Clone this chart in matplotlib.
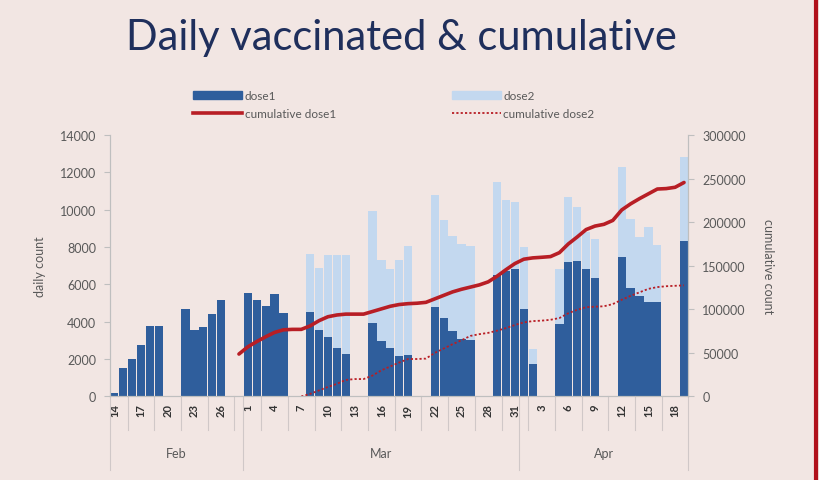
import numpy as np
import pandas as pd
import matplotlib
matplotlib.use("Agg")
import matplotlib.pyplot as plt
import matplotlib.dates as mdates
from matplotlib.lines import Line2D
from matplotlib.patches import Patch
import matplotlib.transforms as mtransforms

# daily bars (weekdays only in the source chart)
bar_dates = pd.to_datetime([
    "2021-02-14", "2021-02-15", "2021-02-16", "2021-02-17", "2021-02-18", "2021-02-19",
    "2021-02-22", "2021-02-23", "2021-02-24", "2021-02-25", "2021-02-26",
    "2021-03-01", "2021-03-02", "2021-03-03", "2021-03-04", "2021-03-05",
    "2021-03-08", "2021-03-09", "2021-03-10", "2021-03-11", "2021-03-12",
    "2021-03-15", "2021-03-16", "2021-03-17", "2021-03-18", "2021-03-19",
    "2021-03-22", "2021-03-23", "2021-03-24", "2021-03-25", "2021-03-26",
    "2021-03-29", "2021-03-30", "2021-03-31", "2021-04-01", "2021-04-02",
    "2021-04-05", "2021-04-06", "2021-04-07", "2021-04-08", "2021-04-09",
    "2021-04-12", "2021-04-13", "2021-04-14", "2021-04-15", "2021-04-16",
    "2021-04-19",
])
dose1 = [200, 1500, 2000, 2750, 3750, 3750,
         4700, 3550, 3700, 4400, 5150,
         5550, 5150, 4850, 5500, 4450,
         4550, 3550, 3200, 2600, 2250,
         3950, 2950, 2600, 2150, 2200,
         4800, 4200, 3500, 3100, 3000,
         6500, 6700, 6850, 4700, 1750,
         3900, 7200, 7250, 6800, 6350,
         7450, 5800, 5400, 5050, 5050,
         8350]
dose2 = [0, 0, 0, 0, 0, 0,
         0, 0, 0, 0, 0,
         0, 0, 0, 0, 0,
         3100, 3350, 4350, 4950, 5300,
         6000, 4350, 4200, 5150, 5850,
         6000, 5250, 5100, 5050, 5050,
         5000, 3800, 3550, 3300, 800,
         2900, 3500, 2900, 2000, 2100,
         4850, 3700, 3150, 4050, 3050,
         4450]

# cumulative series (every calendar day)
cum1_start = "2021-02-28"
cum_dose1 = [48700, 57000, 63000, 68500, 73500, 76500, 77000, 77000,
             81000, 87000, 91500, 93500, 94500, 94500, 94500,
             97500, 100500, 103500, 105500, 106500, 107000, 108000,
             112000, 116000, 120000, 123000, 125500, 128000, 131500,
             138000, 145500, 152500, 157500, 159000, 159700, 160500,
             165000, 175000, 183000, 191500, 195500, 197500, 202000,
             214000, 221000, 227000, 232500, 238000, 238500, 240000,
             245500]
cum2_start = "2021-03-07"
cum_dose2 = [0, 3000, 7000, 11000, 14500, 19000, 20000, 20000,
             24000, 30000, 34500, 39000, 43000, 43000, 43500,
             50000, 55000, 60000, 64500, 69500, 71500, 73000,
             75500, 78500, 82000, 85000, 86500, 87000, 88000,
             90000, 95500, 99500, 102500, 103000, 103500, 106000,
             111000, 115500, 119500, 123500, 125500, 126500, 127000,
             127500]

months = ["Feb", "Mar", "Apr"]

BG = "#F2E6E3"
DARK = "#2F5E9C"
LIGHT = "#C3D8EF"
RED = "#B81E25"
GREY = "#595959"

plt.rcParams["font.family"] = ["Lato", "DejaVu Sans"]

fig = plt.figure(figsize=(8.2, 4.81), dpi=100, facecolor=BG)
ax = fig.add_axes([0.134, 0.1736, 0.7056, 0.5437])
ax.set_facecolor("none")
ax2 = ax.twinx()

ax.bar(bar_dates, dose1, width=0.93, color=DARK, zorder=2)
ax.bar(bar_dates, dose2, width=0.93, bottom=dose1, color=LIGHT, zorder=1)

d1 = pd.date_range(cum1_start, periods=len(cum_dose1))
d2 = pd.date_range(cum2_start, periods=len(cum_dose2))
ax2.plot(d1, cum_dose1, color=RED, lw=2.6, solid_capstyle="round")
ax2.plot(d2, cum_dose2, color=RED, lw=1.3, ls=(0, (1.2, 1.2)))

x0 = pd.Timestamp("2021-02-13 12:00")
x1 = pd.Timestamp("2021-04-19 12:00")
ax.set_xlim(x0, x1)
ax.set_ylim(0, 14000)
ax.set_yticks(np.arange(0, 14001, 2000))
ax2.set_ylim(0, 300000)
ax2.set_yticks(np.arange(0, 300001, 50000))

for a in (ax, ax2):
    a.spines["top"].set_visible(False)
    for s in ("left", "right", "bottom"):
        a.spines[s].set_color("#BFBFBF")
    a.tick_params(axis="y", colors="#BFBFBF", labelcolor=GREY, labelsize=9, length=4, pad=6)

ax.set_ylabel("daily count", color=GREY, fontsize=9, labelpad=10)
ax2.set_ylabel("cumulative count", color=GREY, fontsize=9, rotation=270, labelpad=20)

# day labels every three days
tick_dates = pd.date_range("2021-02-14", "2021-04-18", freq="3D")
ax.set_xticks(tick_dates)
ax.set_xticklabels([str(d.day) for d in tick_dates], rotation=90,
                   fontsize=8, color="#333333", fontweight="bold")
ax.tick_params(axis="x", length=0, pad=5)

trans = mtransforms.blended_transform_factory(ax.transData, ax.transAxes)
for d in tick_dates[:-1]:
    sx = mdates.date2num(d) + 1.5
    ax.add_line(Line2D([sx, sx], [0, -0.13], transform=trans, color="#D0C8C8",
                       lw=0.8, clip_on=False))

month_edges = [x0, pd.Timestamp("2021-02-28 12:00"), pd.Timestamp("2021-03-31 12:00"), x1]
for e in month_edges:
    ex = mdates.date2num(e)
    ax.add_line(Line2D([ex, ex], [0, -0.28], transform=trans, color="#D0C8C8",
                       lw=0.8, clip_on=False))
for m, a, b in zip(months, month_edges[:-1], month_edges[1:]):
    mid = (mdates.date2num(a) + mdates.date2num(b)) / 2
    ax.text(mid, -0.215, m, transform=trans, ha="center", va="center",
            fontsize=9, color=GREY)

fig.text(0.49, 0.922, "Daily vaccinated & cumulative", ha="center", va="center",
         fontsize=30, color="#1F2F5C")

handles = [Patch(color=DARK), Line2D([], [], color=RED, lw=2.6),
           Patch(color=LIGHT), Line2D([], [], color=RED, lw=1.3, ls=(0, (1.2, 1.2)))]
labels = ["dose1", "cumulative dose1", "dose2", "cumulative dose2"]
fig.legend(handles, labels, ncol=2, loc="upper left", bbox_to_anchor=(0.222, 0.832),
           frameon=False, fontsize=8.5, labelcolor=GREY, handlelength=4.2,
           handleheight=0.7, columnspacing=9.8, labelspacing=0.55, handletextpad=0.2)

fig.add_artist(Line2D([0.9955, 0.9955], [0, 1], transform=fig.transFigure,
                      color="#B0101A", lw=3))

fig.savefig("out.png", dpi=100, facecolor=BG)
